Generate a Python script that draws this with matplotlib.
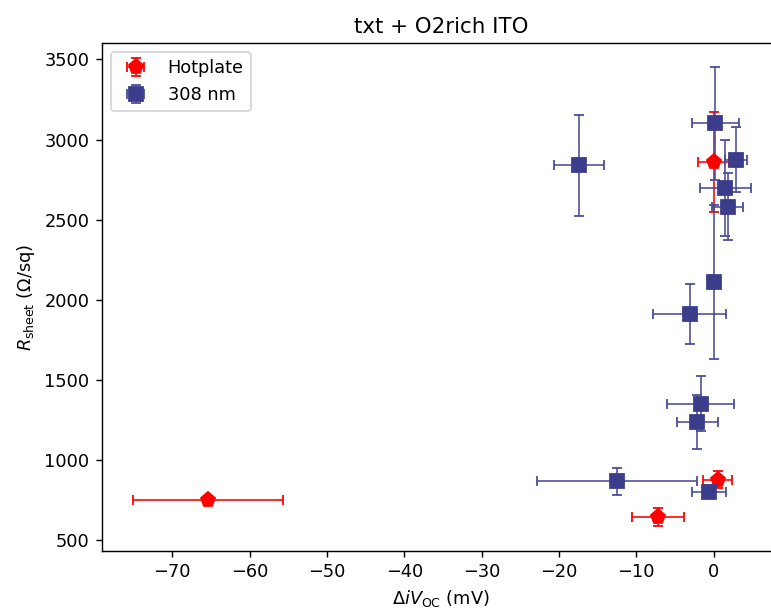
import matplotlib
matplotlib.use("Agg")
import matplotlib.pyplot as plt
from matplotlib.ticker import MultipleLocator

# Hotplate anneal
hp_dvoc = [0.0, 0.5, -7.2, -65.4]
hp_dvoc_err = [2.0, 1.9, 3.4, 9.7]
hp_rsheet = [2860, 875, 640, 750]
hp_rsheet_err = [310, 55, 55, 25]

# 308 nm laser anneal
uv_dvoc = [-17.4, 0.2, 2.9, 1.5, 1.8, 0.1, -3.1, -1.7, -2.1, -12.5, -0.6]
uv_dvoc_err = [3.25, 3.05, 1.4, 3.3, 2.0, 0.3, 4.7, 4.3, 2.7, 10.4, 2.25]
uv_rsheet = [2840, 3100, 2875, 2700, 2580, 2110, 1910, 1350, 1235, 865, 800]
uv_rsheet_err = [315, 350, 200, 300, 210, 480, 190, 170, 170, 83, 40]

DPI = 128
fig = plt.figure(figsize=(771 / DPI, 610 / DPI), dpi=DPI)
# right spine sits just past the canvas edge
ax = fig.add_axes([0.132, 0.0975, 0.880, 0.8315])

ax.errorbar(hp_dvoc, hp_rsheet, xerr=hp_dvoc_err, yerr=hp_rsheet_err,
            fmt='p', color='red', markersize=8.5, capsize=3, elinewidth=0.9,
            label='Hotplate')
ax.errorbar(uv_dvoc, uv_rsheet, xerr=uv_dvoc_err, yerr=uv_rsheet_err,
            fmt='s', color='#3b3d8a', ecolor='#4a4d96', markersize=7.5,
            capsize=3, elinewidth=0.9, label='308 nm')

ax.set_xlim(-79.1, 8.6)
ax.set_ylim(432, 3601)
ax.xaxis.set_major_locator(MultipleLocator(10))
ax.yaxis.set_major_locator(MultipleLocator(500))
ax.set_xlabel(r'$\Delta iV_\mathrm{OC}$ (mV)')
ax.set_ylabel(r'$R_\mathrm{sheet}$ ($\Omega$/sq)')
ax.set_title('txt + O2rich ITO')
ax.legend(loc='upper left')

plt.savefig('out.png', dpi=DPI)
